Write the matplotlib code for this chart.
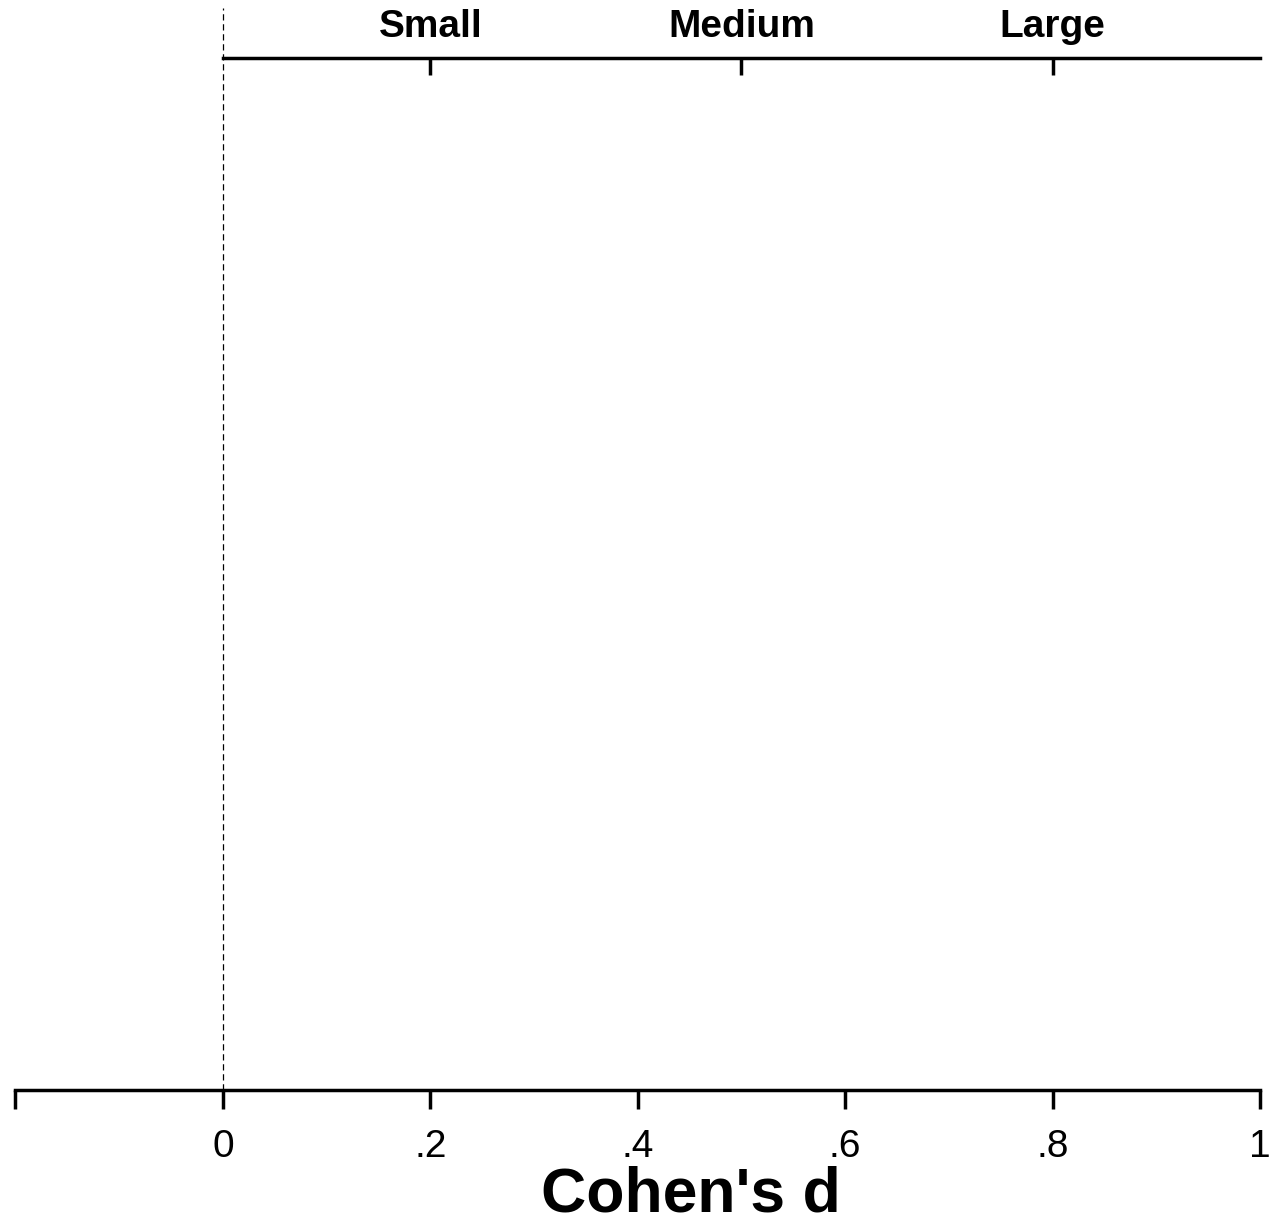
import matplotlib
matplotlib.use("Agg")
import matplotlib.pyplot as plt

plt.rcParams['font.family'] = ['Liberation Sans', 'DejaVu Sans']

# Data
x_limits = [-0.2, 1.0]
bottom_ticks = [-0.2, 0, 0.2, 0.4, 0.6, 0.8, 1.0]
bottom_labels = ["", "0", ".2", ".4", ".6", ".8", "1"]
effect_ticks = [0.2, 0.5, 0.8]
effect_labels = ["Small", "Medium", "Large"]
ref_line = 0
xlabel = "Cohen's d"

fig = plt.figure(figsize=(12.84, 12.25), dpi=100)
W, H = 1284, 1225
left_px, right_px = 15.5, 1260
bottom_px, top_px = 1090, 8
ax = fig.add_axes([left_px / W, 1 - bottom_px / H, (right_px - left_px) / W, (bottom_px - top_px) / H])

lw = 2.5
ax.set_xlim(*x_limits)
ax.set_ylim(0, 1)
for s in ['top', 'left', 'right']:
    ax.spines[s].set_visible(False)
ax.spines['bottom'].set_linewidth(lw)
ax.set_yticks([])
ax.set_xticks(bottom_ticks)
ax.set_xticklabels(bottom_labels)
ax.tick_params(axis='x', direction='out', length=14, width=lw, pad=14, labelsize=28)

ax.axvline(ref_line, color='black', linestyle=(0, (5, 3)), linewidth=0.9)

ax.set_xlabel(xlabel, fontsize=45, fontweight='bold')
ax.xaxis.set_label_coords((691 - left_px) / (right_px - left_px), (bottom_px - 1166) / (bottom_px - top_px))

top_y = (bottom_px - 58) / (bottom_px - top_px)
sec = ax.secondary_xaxis(top_y)
sec.set_xticks(effect_ticks)
sec.set_xticklabels(effect_labels, fontweight='bold')
sec.spines['top'].set_bounds(0, 1)
sec.spines['top'].set_linewidth(lw)
sec.tick_params(axis='x', direction='in', length=12, width=lw, pad=9, labelsize=28)

fig.savefig("out.png", dpi=100, facecolor='white')
